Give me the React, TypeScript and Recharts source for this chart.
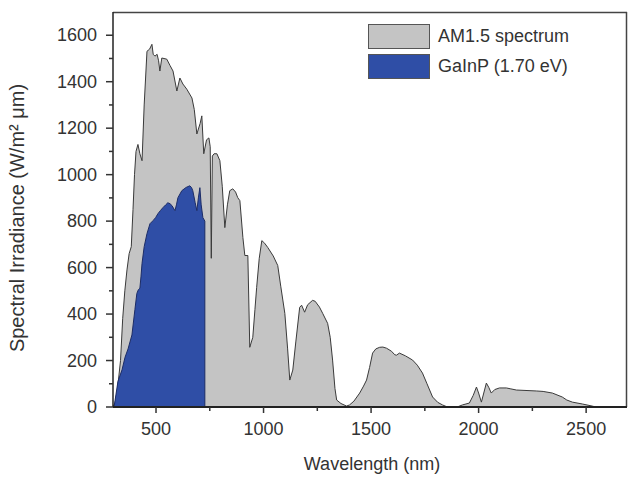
import React from 'react';
import { AreaChart, Area, XAxis, YAxis, Legend, CartesianGrid } from 'recharts';

// AM1.5 spectrum: wavelength (nm) and irradiance (W/m² µm)
const am15Wavelength = [
  300, 310, 320, 335, 345, 355, 365, 375, 385, 393, 400, 407, 416, 425, 435, 445, 458, 470, 481, 487,
  495, 505, 512, 518, 527, 550, 565, 579, 597, 611, 625, 643, 667, 678, 690, 705, 713, 722, 735, 746,
  752, 757, 762, 770, 783, 797, 808, 820, 832, 843, 857, 870, 880, 890, 904, 913, 927, 936, 950, 960,
  968, 980, 992, 1005, 1020, 1045, 1066, 1080, 1099, 1112, 1122, 1136, 1150, 1168, 1177, 1191, 1205, 1228, 1240, 1260,
  1275, 1298, 1310, 1321, 1332, 1340, 1360, 1386, 1400, 1420, 1447, 1465, 1479, 1493, 1507, 1522, 1540, 1555, 1572, 1595,
  1610, 1618, 1632, 1660, 1693, 1715, 1739, 1760, 1786, 1810, 1832, 1855, 1900, 1925, 1957, 1975, 1990, 2000, 2013, 2036,
  2047, 2059, 2075, 2097, 2129, 2150, 2176, 2268, 2300, 2343, 2389, 2410, 2436, 2482, 2528, 2545,
];
const am15Irradiance = [
  0, 20, 70, 200, 380, 500, 590, 660, 690, 850, 1000, 1100, 1130, 1090, 1060, 1300, 1531, 1540, 1561, 1518,
  1510, 1518, 1490, 1446, 1502, 1497, 1470, 1446, 1360, 1416, 1390, 1368, 1330, 1280, 1175, 1220, 1253, 1090, 1150, 1158,
  1120, 640, 1080, 1090, 1090, 1060, 950, 772, 870, 931, 939, 925, 901, 888, 729, 652, 652, 257, 300, 420,
  515, 640, 716, 705, 686, 650, 609, 520, 403, 250, 116, 159, 280, 429, 438, 408, 440, 459, 455, 430,
  403, 360, 300, 202, 80, 30, 15, 4, 9, 25, 60, 90, 116, 170, 232, 250, 257, 258, 253, 240,
  225, 223, 232, 220, 202, 180, 146, 100, 43, 20, 9, 0, 0, 9, 17, 50, 86, 60, 21, 103,
  85, 60, 75, 82, 82, 78, 73, 69, 67, 60, 43, 30, 21, 13, 4, 0,
];

// GaInP (1.70 eV) part of the spectrum, cut off at ~727 nm
const gainpWavelength = [
  305, 323, 342, 356, 370, 388, 402, 411, 418, 425, 430, 435, 445, 458, 472, 486, 498, 509, 520, 532,
  545, 555, 565, 574, 588, 595, 602, 620, 640, 657, 665, 671, 682, 690, 697, 704, 710, 718, 727, 727,
];
const gainpIrradiance = [
  0, 110, 160, 214, 250, 310, 420, 489, 505, 511, 560, 618, 690, 746, 789, 802, 815, 832, 845, 858,
  870, 879, 875, 867, 845, 870, 901, 931, 945, 952, 945, 931, 880, 845, 900, 944, 870, 815, 800, 0,
];

const xTicks = [500, 750, 1000, 1250, 1500, 1750, 2000, 2250, 2500];
const yTicks = [0, 100, 200, 300, 400, 500, 600, 700, 800, 900, 1000, 1100, 1200, 1300, 1400, 1500, 1600];
const xDomain = [300, 2690];
const yDomain = [0, 1700];

const legendItems = [
  { label: 'AM1.5 spectrum', color: '#c4c4c4' },
  { label: 'GaInP (1.70 eV)', color: '#2f4ea6' },
];

const am15Data = am15Wavelength.map((w, i) => ({ w, v: am15Irradiance[i] }));
const gainpData = gainpWavelength.map((w, i) => ({ w, v: gainpIrradiance[i] }));

const FONT = '"Liberation Sans", Arial, sans-serif';
const TEXT = '#333333';

const YTick = (props: any) => {
  const { x, y, payload } = props;
  const major = payload.value % 200 === 0;
  return (
    <g>
      <line x1={major ? x : x + 3} x2={x + 7} y1={y} y2={y} stroke="#333" strokeWidth={1.5} />
      {major && (
        <text x={x - 9} y={y} dy={6} textAnchor="end" fontSize={18} fontFamily={FONT} fill={TEXT}>
          {payload.value}
        </text>
      )}
    </g>
  );
};

const XTick = (props: any) => {
  const { x, y, payload } = props;
  const major = payload.value % 500 === 0;
  return (
    <g>
      <line x1={x} x2={x} y1={y - 6} y2={major ? y : y - 2} stroke="#333" strokeWidth={1.5} />
      {major && (
        <text x={x} y={y + 22} textAnchor="middle" fontSize={18} fontFamily={FONT} fill={TEXT}>
          {payload.value}
        </text>
      )}
    </g>
  );
};

const LegendBox = () => (
  <div style={{ fontFamily: FONT, fontSize: 18, color: TEXT }}>
    {legendItems.map((item) => (
      <div key={item.label} style={{ display: 'flex', alignItems: 'center', height: 30 }}>
        <span
          style={{
            display: 'inline-block',
            width: 60,
            height: 23,
            background: item.color,
            border: '1px solid #555',
            marginRight: 8,
          }}
        />
        <span>{item.label}</span>
      </div>
    ))}
  </div>
);

export default function App() {
  return (
    <div style={{ position: 'absolute', left: 0, top: 0, width: 629, height: 479, background: '#fff' }}>
      <AreaChart width={629} height={479} margin={{ top: 12, right: 2, bottom: 0, left: 0 }}>
        {/* plot frame: only the top and right edges, taken from the plot offset */}
        <CartesianGrid
          stroke="#444"
          strokeWidth={1.5}
          horizontalCoordinatesGenerator={({ offset }: any) => [offset.top + 0.5]}
          verticalCoordinatesGenerator={({ offset }: any) => [offset.left + offset.width - 0.5]}
        />
        <XAxis
          dataKey="w"
          type="number"
          domain={xDomain}
          ticks={xTicks}
          interval={0}
          allowDataOverflow
          height={72}
          tickSize={6}
          tickMargin={0}
          tickLine={false}
          tick={<XTick />}
          axisLine={{ stroke: '#222', strokeWidth: 2 }}
          label={{
            content: () => (
              <text x={372} y={470} textAnchor="middle" fontSize={18} fontFamily={FONT} fill={TEXT}>
                Wavelength (nm)
              </text>
            ),
          }}
        />
        <YAxis
          type="number"
          domain={yDomain}
          ticks={yTicks}
          interval={0}
          width={113}
          tickSize={7}
          tickMargin={0}
          tickLine={false}
          tick={<YTick />}
          axisLine={{ stroke: '#222', strokeWidth: 1.5 }}
          label={{
            content: () => (
              <text
                x={24}
                y={218}
                transform="rotate(-90 24 218)"
                textAnchor="middle"
                fontSize={20}
                fontFamily={FONT}
                fill={TEXT}
              >
                Spectral Irradiance (W/m² μm)
              </text>
            ),
          }}
        />
        <Area
          data={am15Data}
          dataKey="v"
          type="linear"
          fill="#c4c4c4"
          fillOpacity={1}
          stroke="#3a3a3a"
          strokeWidth={1}
          isAnimationActive={false}
        />
        <Area
          data={gainpData}
          dataKey="v"
          type="linear"
          fill="#2f4ea6"
          fillOpacity={1}
          stroke="#1c2c66"
          strokeWidth={1}
          isAnimationActive={false}
        />
        <Legend
          layout="vertical"
          align="center"
          verticalAlign="middle"
          content={<LegendBox />}
          wrapperStyle={{ top: 21, left: 368, width: 220 }}
        />
      </AreaChart>
    </div>
  );
}
